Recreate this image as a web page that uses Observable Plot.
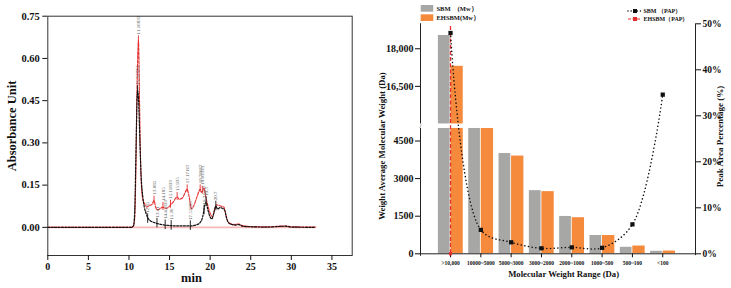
<!DOCTYPE html>
<html>
<head>
<meta charset="utf-8">
<script src="https://cdn.jsdelivr.net/npm/d3@7"></script>
<script src="https://cdn.jsdelivr.net/npm/@observablehq/plot@0.6"></script>
<style>
  body { margin: 0; background: #fff; }
  #wrap { position: relative; width: 731px; height: 288px; overflow: hidden; }
  #wrap > svg { position: absolute; top: 0; }
</style>
</head>
<body>
<div id="wrap"></div>
<script>
// ---------- Chromatogram: [retention time (min), absorbance] ----------
const ehsbmTrace = [
  [0,0],[10.3,0],[10.5,0.003],[10.7,0.03],[10.85,0.2],[11.0,0.5],[11.17,0.664],[11.3,0.45],
  [11.42,0.25],[11.55,0.14],[11.7,0.1],[11.9,0.085],[12.2,0.072],[12.5,0.078],[12.8,0.08],
  [13.085,0.095],[13.3,0.07],[13.5,0.062],[13.8,0.066],[14.185,0.072],[14.45,0.068],[14.8,0.07],
  [15.118,0.08],[15.4,0.088],[15.935,0.108],[16.2,0.1],[16.6,0.105],[17.17,0.135],[17.4,0.11],
  [17.7,0.066],[18.0,0.078],[18.4,0.11],[18.77,0.135],[18.95,0.125],[19.1,0.13],[19.25,0.14],
  [19.45,0.11],[19.7,0.08],[20.0,0.05],[20.3,0.038],[20.55,0.065],[20.8,0.08],[21.1,0.078],
  [21.4,0.075],[21.7,0.072],[21.9,0.05],[22.2,0.02],[22.6,0.012],[23.0,0.01],[23.5,0.012],
  [24.0,0.006],[25.0,0.003],[27.0,0.002],[29.3,0.005],[30.0,0.002],[33.0,0.001]
];
const sbmTrace = [
  [0,0],[10.3,0],[10.55,0.005],[10.7,0.05],[10.85,0.25],[11.0,0.46],[11.06,0.486],[11.2,0.44],
  [11.35,0.3],[11.5,0.18],[11.7,0.11],[11.9,0.07],[12.1,0.05],[12.35,0.032],[12.7,0.022],
  [13.0,0.018],[13.45,0.014],[14.0,0.01],[14.45,0.008],[15.2,0.006],[16.0,0.005],[17.0,0.005],
  [17.6,0.005],[18.2,0.008],[18.7,0.015],[19.1,0.04],[19.35,0.08],[19.5,0.09],[19.7,0.065],
  [19.95,0.04],[20.2,0.03],[20.45,0.05],[20.7,0.075],[20.95,0.065],[21.2,0.07],[21.5,0.068],
  [21.8,0.06],[22.0,0.035],[22.3,0.015],[22.7,0.01],[23.0,0.008],[23.5,0.01],[24.0,0.004],
  [25.0,0.002],[27.0,0.001],[29.3,0.004],[30.0,0.001],[33.0,0]
];
// integrated peak markers: time, height, label
const ehsbmPeaks = [
  {t: 11.17, a: 0.664, label: "11.16833"},
  {t: 13.085, a: 0.095, label: "13.085"},
  {t: 14.185, a: 0.072, label: "14.185"},
  {t: 15.118, a: 0.08, label: "15.11833"},
  {t: 15.935, a: 0.108, label: "15.935"},
  {t: 17.17, a: 0.135, label: "17.17167"},
  {t: 18.77, a: 0.135, label: "18.76667"},
  {t: 19.03, a: 0.13, label: "19.03333"}
];
const sbmPeaks = [
  {t: 11.06, a: 0.486, label: "11.05833"},
  {t: 12.3, a: 0.03, label: "12.35"},
  {t: 13.45, a: 0.014, label: "13.41"},
  {t: 14.458, a: 0.008, label: "14.45833"},
  {t: 15.2, a: 0.006, label: "15.26"},
  {t: 17.56, a: 0.005, label: "17.55833"},
  {t: 19.25, a: 0.06, label: "19.24167"},
  {t: 19.5, a: 0.09, label: "19.5"},
  {t: 20.7, a: 0.075, label: "20.7"}
];
const rtTicks = [0, 5, 10, 15, 20, 25, 30, 35];
const absTicks = [0, 0.15, 0.30, 0.45, 0.60, 0.75];

// ---------- Molecular weight distribution ----------
const ranges = [">10,000", "10000~5000", "5000~3000", "3000~2000", "2000~1000", "1000~500", "500~100", "<100"];
const sbmMw = [18530, 7000, 4000, 2520, 1490, 730, 260, 100];
const ehsbmMw = [17300, 7000, 3900, 2480, 1440, 730, 310, 110];
const sbmPap = [48.0, 5.2, 2.5, 1.2, 1.4, 1.3, 6.4, 34.6];
const ehsbmPapSpan = [0, 49.4];
const mwTicks = [0, 1500, 3000, 4500, 16500, 18000];
const papTicks = [0, 10, 20, 30, 40, 50];

// broken value axis: 0–5000 and 15000–19000, separated by a small gap
const LOW_TOP = 5000, HIGH_BOTTOM = 15000, GAP = 180;
const brk = v => v <= LOW_TOP ? v : v >= HIGH_BOTTOM ? v - HIGH_BOTTOM + LOW_TOP + GAP : LOW_TOP + GAP / 2;
const unbrk = u => u <= LOW_TOP ? u : u - LOW_TOP - GAP + HIGH_BOTTOM;

const H = 288;
const serif = "'Liberation Serif', 'Times New Roman', serif";
const RED = "#e52f2f", GREY = "#a7a8a6", ORANGE = "#f58a3d";
const wrap = document.getElementById("wrap");

// ---------- left panel ----------
const chrom = Plot.plot({
  width: 365, height: H,
  marginLeft: 47.3, marginRight: 13.3, marginTop: 15.7, marginBottom: 33,
  style: {fontFamily: serif, fontWeight: "bold", background: "transparent", color: "#111"},
  x: {domain: [0, 37.5]},
  y: {domain: [-0.1, 0.75]},
  marks: [
    Plot.ruleY([0], {x1: 0, x2: 33, stroke: "#f9b8b8", strokeWidth: 1.6}),
    Plot.line(ehsbmTrace, {x: d => d[0], y: d => d[1], curve: "monotone-x", stroke: RED, strokeWidth: 1.1, strokeDasharray: "3,1.3"}),
    Plot.line(sbmTrace, {x: d => d[0], y: d => d[1], curve: "monotone-x", stroke: "#111", strokeWidth: 1.2, strokeDasharray: "2,1.4"}),
    Plot.ruleX(ehsbmPeaks, {x: "t", y1: d => d.a - 0.012, y2: d => d.a + 0.016, stroke: RED, strokeWidth: 0.9}),
    Plot.ruleX(sbmPeaks, {x: "t", y1: d => d.a - 0.016, y2: d => d.a + 0.018, stroke: "#111", strokeWidth: 0.9}),
    Plot.text(ehsbmPeaks.concat(sbmPeaks), {x: "t", y: "a", text: "label", rotate: -90, textAnchor: "start", dy: -6, fontSize: 5, fill: "#555", fontWeight: "normal"}),
    Plot.frame({stroke: "#333", strokeWidth: 1}),
    Plot.axisX({ticks: rtTicks, tickSize: 5, tickPadding: 2, fontSize: 10, label: null}),
    Plot.axisY({ticks: absTicks, tickFormat: d3.format(".2f"), tickSize: 5, tickPadding: 3, fontSize: 10.5, label: null}),
    Plot.text(["Absorbance Unit"], {text: d => d, frameAnchor: "left", y: [0.36], dx: -35.6, rotate: -90, textAnchor: "middle", fontSize: 12.5}),
    Plot.text(["min"], {text: d => d, frameAnchor: "bottom", x: [17.7], dy: 26, fontSize: 12.5})
  ]
});
chrom.style.left = "0px";
wrap.appendChild(chrom);

// ---------- right panel: bars on a broken axis ----------
const xDom = [-0.99, 8.08];
function barRows(values, a, b) {
  const rows = [];
  values.forEach((v, i) => {
    rows.push({x1: i + a, x2: i + b, y1: 0, y2: brk(Math.min(v, LOW_TOP))});
    if (v > HIGH_BOTTOM) rows.push({x1: i + a, x2: i + b, y1: brk(HIGH_BOTTOM), y2: brk(v)});
  });
  return rows;
}
const bars = Plot.plot({
  width: 366, height: H,
  marginLeft: 55, marginRight: 36, marginTop: 23.2, marginBottom: 34.7,
  style: {fontFamily: serif, fontWeight: "bold", background: "transparent", color: "#111"},
  x: {domain: xDom},
  y: {domain: [0, brk(19000)]},
  marks: [
    Plot.rect(barRows(sbmMw, -0.4, 0), {x1: "x1", x2: "x2", y1: "y1", y2: "y2", fill: GREY, insetRight: 0.4}),
    Plot.rect(barRows(ehsbmMw, 0, 0.42), {x1: "x1", x2: "x2", y1: "y1", y2: "y2", fill: ORANGE, insetLeft: 0.4}),
    Plot.ruleY([0], {stroke: "#222", strokeWidth: 1}),
    Plot.ruleX([{y1: -100, y2: brk(LOW_TOP)}, {y1: brk(HIGH_BOTTOM), y2: brk(19000)}], {x: () => xDom[0], y1: "y1", y2: "y2", stroke: "#222", strokeWidth: 1}),
    Plot.text(["/"], {text: d => d, x: [xDom[0]], y: [brk(10000)], fontSize: 7, fontWeight: "normal", fill: "#222"}),
    Plot.axisX({ticks: d3.range(ranges.length), tickFormat: i => ranges[i], tickSize: 4, tickPadding: 3, fontSize: 5.5, label: null}),
    Plot.axisY({ticks: mwTicks.map(brk), tickFormat: u => { const v = Math.round(unbrk(u)); return v >= 10000 ? d3.format(",")(v) : String(v); }, tickSize: 5, tickPadding: 2, fontSize: 10, label: null}),
    Plot.text(["Weight Average Molecular Weight (Da)"], {text: d => d, frameAnchor: "left", y: [brk(4300)], dx: -38.3, rotate: -90, textAnchor: "middle", fontSize: 8.8}),
    Plot.text(["Molecular Weight Range (Da)"], {text: d => d, frameAnchor: "bottom", x: [3.73], dy: 22.7, fontSize: 8.7})
  ]
});
bars.style.left = "365px";
wrap.appendChild(bars);

// ---------- right panel: peak area percentage on the secondary axis ----------
const pap = Plot.plot({
  width: 366, height: H,
  marginLeft: 55, marginRight: 36, marginTop: 23.3, marginBottom: 34.7,
  style: {fontFamily: serif, fontWeight: "bold", background: "transparent", color: "#111"},
  x: {domain: xDom, axis: null},
  y: {domain: [0, 50]},
  marks: [
    Plot.ruleX([0], {y1: ehsbmPapSpan[0], y2: ehsbmPapSpan[1], stroke: RED, strokeWidth: 1.3, strokeDasharray: "4,2.2"}),
    Plot.dot([ehsbmPapSpan[0]], {x: () => 0, y: d => d, symbol: "square", r: 1.8, fill: RED}),
    Plot.line(sbmPap, {x: (d, i) => i, y: d => d, curve: "catmull-rom", stroke: "#111", strokeWidth: 1.5, strokeDasharray: "0.1,3.6", strokeLinecap: "round"}),
    Plot.dot(sbmPap, {x: (d, i) => i, y: d => d, symbol: "square", r: 2.4, fill: "#111"}),
    Plot.ruleX([xDom[1]], {y1: -0.4, y2: 50, stroke: "#222", strokeWidth: 1}),
    Plot.axisY({anchor: "right", ticks: papTicks, tickFormat: d => d + "%", tickSize: 5, tickPadding: 2, fontSize: 9.5, label: null}),
    Plot.text(["Peak Area Percentage (%)"], {text: d => d, frameAnchor: "right", y: [25.5], dx: 25, rotate: -90, textAnchor: "middle", fontSize: 9})
  ]
});
pap.style.left = "365px";
wrap.appendChild(pap);

// legends
const lg = d3.select(pap).append("g")
  .attr("font-family", serif).attr("font-weight", "bold").attr("fill", "#111")
  .attr("text-anchor", "start");
[[GREY, "SBM\u3000(Mw\uFF09", 5], [ORANGE, "EHSBM(Mw\uFF09", 14.3]].forEach(([c, t, y]) => {
  lg.append("rect").attr("x", 55.7).attr("y", y).attr("width", 12.6).attr("height", 6.7).attr("fill", c);
  lg.append("text").attr("x", 71.5).attr("y", y + 3.4).attr("dy", "0.35em").attr("font-size", 6.5).text(t);
});
const rows = [
  {y: 11, stroke: "#111", dash: "0.1,3", cap: "round", w: 1.4, text: "SBM \uFF08PAP\uFF09"},
  {y: 19, stroke: RED, dash: "3,1.5", cap: "butt", w: 1.1, text: "EHSBM\uFF08PAP\uFF09"}
];
rows.forEach(r => {
  lg.append("line").attr("x1", 263).attr("x2", 276).attr("y1", r.y).attr("y2", r.y)
    .attr("stroke", r.stroke).attr("stroke-width", r.w).attr("stroke-dasharray", r.dash).attr("stroke-linecap", r.cap);
  lg.append("rect").attr("x", 268).attr("y", r.y - 2).attr("width", 4).attr("height", 4).attr("fill", r.stroke);
  lg.append("text").attr("x", 278.5).attr("y", r.y).attr("dy", "0.35em").attr("font-size", 6).text(r.text);
});
</script>
</body>
</html>
